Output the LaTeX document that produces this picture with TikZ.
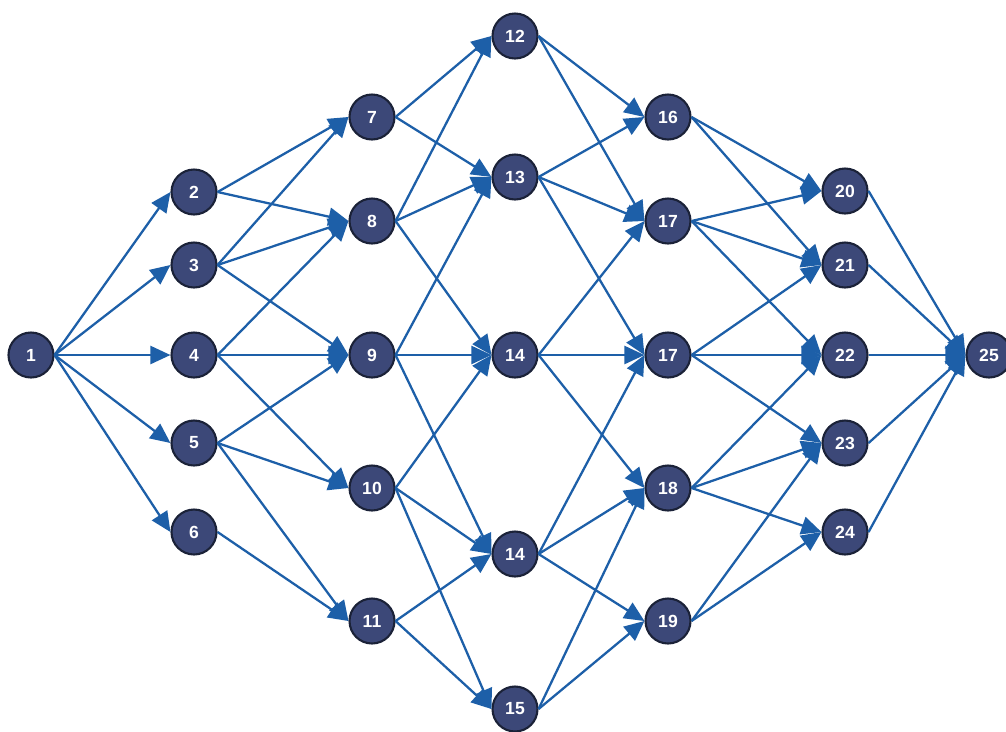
\documentclass[tikz,border=0pt]{standalone}
\usepackage{fontspec}
\setmainfont{Liberation Sans}
\usetikzlibrary{arrows.meta}
\definecolor{netnode}{HTML}{3C4878}
\definecolor{netrim}{HTML}{1B2238}
\definecolor{netedge}{HTML}{1D5FA8}

\begin{document}
\begin{tikzpicture}[x=0.02cm, y=-0.02cm,
  every node/.style={font=\fontsize{10}{11}\selectfont\bfseries},
  event/.style={draw=netrim, line width=1.2pt, circle, fill=netnode, text=white,
    minimum size=0.9cm, inner sep=0pt},
  edge/.style={-{Triangle[length=0.4cm, width=0.36cm]}, draw=netedge, line width=1.3pt}]
  \useasboundingbox (0,0) rectangle (1006,731);

  % Start
  \node[event] (n1) at (31,355) {1};

  % First layer
  \node[event] (n2) at (194,192) {2};
  \node[event] (n3) at (194,265) {3};
  \node[event] (n4) at (194,355) {4};
  \node[event] (n5) at (194,443) {5};
  \node[event] (n6) at (194,532) {6};

  % Second layer
  \node[event] (n7) at (372,117) {7};
  \node[event] (n8) at (372,221) {8};
  \node[event] (n9) at (372,355) {9};
  \node[event] (n10) at (372,488) {10};
  \node[event] (n11) at (372,621) {11};

  % Middle layer
  \node[event] (n12) at (515,36) {12};
  \node[event] (n13) at (515,177) {13};
  \node[event] (n14a) at (515,355) {14};
  \node[event] (n14b) at (515,554) {14};
  \node[event] (n15) at (515,709) {15};

  % Fourth layer
  \node[event] (n16) at (668,117) {16};
  \node[event] (n17a) at (668,221) {17};
  \node[event] (n17b) at (668,355) {17};
  \node[event] (n18) at (668,488) {18};
  \node[event] (n19) at (668,621) {19};

  % Fifth layer
  \node[event] (n20) at (845,191) {20};
  \node[event] (n21) at (845,265) {21};
  \node[event] (n22) at (845,355) {22};
  \node[event] (n23) at (845,443) {23};
  \node[event] (n24) at (845,532) {24};

  % End
  \node[event] (n25) at (989,355) {25};

  % Arrows
  \draw[edge] (n1.east) -- (n2.west);
  \draw[edge] (n1.east) -- (n3.west);
  \draw[edge] (n1.east) -- (n4.west);
  \draw[edge] (n1.east) -- (n5.west);
  \draw[edge] (n1.east) -- (n6.west);

  \draw[edge] (n2.east) -- (n7.west);
  \draw[edge] (n2.east) -- (n8.west);
  \draw[edge] (n3.east) -- (n7.west);
  \draw[edge] (n3.east) -- (n8.west);
  \draw[edge] (n3.east) -- (n9.west);
  \draw[edge] (n4.east) -- (n8.west);
  \draw[edge] (n4.east) -- (n9.west);
  \draw[edge] (n4.east) -- (n10.west);
  \draw[edge] (n5.east) -- (n9.west);
  \draw[edge] (n5.east) -- (n10.west);
  \draw[edge] (n5.east) -- (n11.west);
  \draw[edge] (n6.east) -- (n11.west);

  \draw[edge] (n7.east) -- (n12.west);
  \draw[edge] (n7.east) -- (n13.west);
  \draw[edge] (n8.east) -- (n12.west);
  \draw[edge] (n8.east) -- (n13.west);
  \draw[edge] (n8.east) -- (n14a.west);
  \draw[edge] (n9.east) -- (n13.west);
  \draw[edge] (n9.east) -- (n14a.west);
  \draw[edge] (n9.east) -- (n14b.west);
  \draw[edge] (n10.east) -- (n14a.west);
  \draw[edge] (n10.east) -- (n14b.west);
  \draw[edge] (n10.east) -- (n15.west);
  \draw[edge] (n11.east) -- (n14b.west);
  \draw[edge] (n11.east) -- (n15.west);

  \draw[edge] (n12.east) -- (n16.west);
  \draw[edge] (n12.east) -- (n17a.west);
  \draw[edge] (n13.east) -- (n16.west);
  \draw[edge] (n13.east) -- (n17a.west);
  \draw[edge] (n13.east) -- (n17b.west);
  \draw[edge] (n14a.east) -- (n17a.west);
  \draw[edge] (n14a.east) -- (n17b.west);
  \draw[edge] (n14a.east) -- (n18.west);
  \draw[edge] (n14b.east) -- (n17b.west);
  \draw[edge] (n14b.east) -- (n18.west);
  \draw[edge] (n14b.east) -- (n19.west);
  \draw[edge] (n15.east) -- (n18.west);
  \draw[edge] (n15.east) -- (n19.west);

  \draw[edge] (n16.east) -- (n20.west);
  \draw[edge] (n16.east) -- (n21.west);
  \draw[edge] (n17a.east) -- (n20.west);
  \draw[edge] (n17a.east) -- (n21.west);
  \draw[edge] (n17a.east) -- (n22.west);
  \draw[edge] (n17b.east) -- (n21.west);
  \draw[edge] (n17b.east) -- (n22.west);
  \draw[edge] (n17b.east) -- (n23.west);
  \draw[edge] (n18.east) -- (n22.west);
  \draw[edge] (n18.east) -- (n23.west);
  \draw[edge] (n18.east) -- (n24.west);
  \draw[edge] (n19.east) -- (n23.west);
  \draw[edge] (n19.east) -- (n24.west);

  \draw[edge] (n20.east) -- (n25.west);
  \draw[edge] (n21.east) -- (n25.west);
  \draw[edge] (n22.east) -- (n25.west);
  \draw[edge] (n23.east) -- (n25.west);
  \draw[edge] (n24.east) -- (n25.west);
\end{tikzpicture}
\end{document}
